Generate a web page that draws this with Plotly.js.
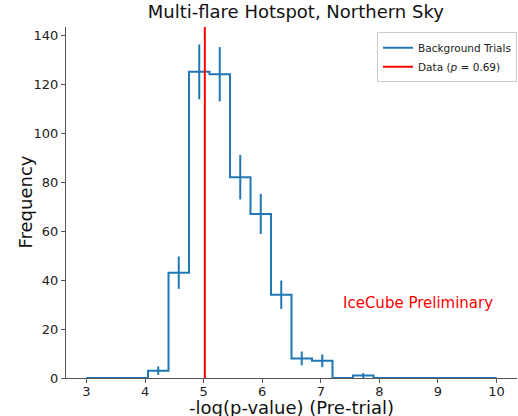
<!DOCTYPE html>
<html><head><meta charset="utf-8">
<script src="https://cdn.plot.ly/plotly-3.0.1.min.js"></script>
<style>html,body{margin:0;padding:0;background:#fff}#c{width:518px;height:416px}</style>
</head><body><div id="c"></div>
<script>
// Histogram bin edges (-log p-value) and counts
const binEdges = [3.0,3.35,3.7,4.05,4.4,4.75,5.1,5.45,5.8,6.15,6.5,6.85,7.2,7.55,7.9,8.25,8.6,8.95,9.3,9.65,10.0];
const counts   = [0,0,0,3,43,125,124,82,67,34,8,7,0,1,0,0,0,0,0,0];
const countErr = [0,0,0,1.7,6.6,11.2,11.1,9.1,8.2,5.8,2.8,2.6,0,1,0,0,0,0,0,0];
const dataValue = 5.02;
const xTicks = [3,4,5,6,7,8,9,10];
const yTicks = [0,20,40,60,80,100,120,140];

const blue = '#1f77b4';
const stepX = binEdges.slice();
const stepY = counts.concat([counts[counts.length-1]]);
const centers = counts.map((c,i)=>(binEdges[i]+binEdges[i+1])/2);
const ebX = [], ebY = [], ebE = [];
counts.forEach((c,i)=>{ if(c>0){ ebX.push(centers[i]); ebY.push(c); ebE.push(countErr[i]); } });

const font = 'DejaVu Sans, sans-serif';
const traces = [
  {x: stepX, y: stepY, mode:'lines', line:{shape:'hv', color:blue, width:2}, name:'Background Trials', hoverinfo:'skip'},
  {x: ebX, y: ebY, mode:'markers', marker:{size:0.1, color:blue, opacity:0}, showlegend:false,
   error_y:{type:'data', array:ebE, visible:true, color:blue, thickness:2, width:0}},
  {x:[dataValue,dataValue], y:[0,143.3], mode:'lines', line:{color:'#ff0000', width:2}, name:'Data (<i>p</i> = 0.69)'}
];
const layout = {
  width:518, height:416,
  margin:{l:66, r:1, t:27, b:38, pad:0},
  paper_bgcolor:'#fff', plot_bgcolor:'#fff',
  font:{family:font, color:'#222'},
  title:{text:'Multi-flare Hotspot, Northern Sky', font:{family:font, size:18, color:'#111'}, x:0.571, xanchor:'center', y:0.988, yanchor:'top'},
  xaxis:{range:[2.65,10.35], tickvals:xTicks, ticktext:xTicks.map(String), showgrid:false, zeroline:false, automargin:false,
    showline:true, linecolor:'#555', linewidth:1, mirror:false, ticks:'outside', ticklen:4, tickcolor:'#555',
    tickfont:{family:font, size:13, color:'#222'}, ticklabelstandoff:-3},
  yaxis:{range:[0,143.3], tickvals:yTicks, ticktext:yTicks.map(String), showgrid:false, zeroline:false, automargin:false,
    showline:true, linecolor:'#555', linewidth:1, ticks:'outside', ticklen:4, tickcolor:'#555',
    tickfont:{family:font, size:13, color:'#222'}},
  legend:{x:1.0, xanchor:'right', y:0.985, yanchor:'top', bgcolor:'rgba(255,255,255,0.8)', bordercolor:'#ccc', borderwidth:1,
    font:{family:font, size:10.5, color:'#222'}, itemwidth:30, tracegroupgap:0},
  annotations:[
    {x:8.66, y:30.5, xref:'x', yref:'y', text:'IceCube Preliminary', showarrow:false,
     font:{family:font, size:15, color:'#ff0000'}, xanchor:'center', yanchor:'middle'},
    {x:0.5, y:0, xref:'paper', yref:'paper', yshift:-29, text:'-log(p-value) (Pre-trial)', showarrow:false,
     font:{family:font, size:18, color:'#111'}, xanchor:'center', yanchor:'middle'},
    {x:0, y:0.5, xref:'paper', yref:'paper', xshift:-41, text:'Frequency', textangle:-90, showarrow:false,
     font:{family:font, size:18, color:'#111'}, xanchor:'center', yanchor:'middle'}
  ],
  showlegend:true
};
Plotly.newPlot('c', traces, layout, {displayModeBar:false, staticPlot:true});
</script></body></html>
